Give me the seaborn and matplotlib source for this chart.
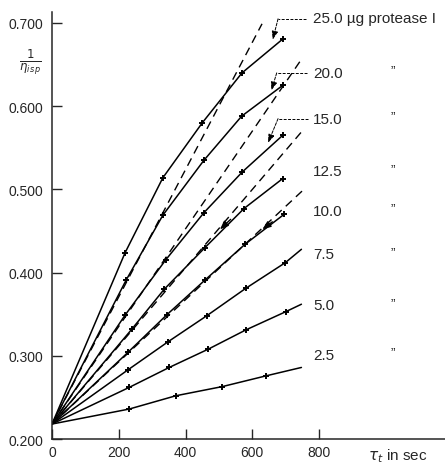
import numpy as np
import pandas as pd
import matplotlib
matplotlib.use("Agg")
import matplotlib.pyplot as plt
import seaborn as sns

# ---------------- data ----------------
doses = ["25.0", "20.0", "15.0", "12.5", "10.0", "7.5", "5.0", "2.5"]
origin_t = 0
origin_v = 0.218

t_25 = [219, 332, 450, 569, 692]
v_25 = [0.424, 0.514, 0.580, 0.640, 0.681]
t_20 = [222, 332, 455, 568, 691]
v_20 = [0.391, 0.469, 0.535, 0.588, 0.625]
t_15 = [219, 340, 455, 570, 691]
v_15 = [0.349, 0.415, 0.472, 0.521, 0.565]
t_125 = [239, 336, 458, 575, 691]
v_125 = [0.332, 0.380, 0.430, 0.477, 0.513]
t_10 = [227, 343, 458, 578, 695]
v_10 = [0.304, 0.349, 0.391, 0.434, 0.470]
t_75 = [227, 348, 463, 580, 699]
v_75 = [0.283, 0.317, 0.348, 0.381, 0.412]
t_5 = [231, 351, 468, 580, 700]
v_5 = [0.262, 0.286, 0.308, 0.331, 0.353]
t_25b = [231, 371, 510, 642]
v_25b = [0.236, 0.252, 0.263, 0.276]

# line ends (no marker) for the three lowest series
end_t = {"7.5": 747, "5.0": 747, "2.5": 747}
end_v = {"7.5": 0.428, "5.0": 0.362, "2.5": 0.286}

# dashed initial-slope lines (from origin to end)
dash_doses = ["20.0", "15.0", "12.5", "10.0"]
dash_end_t = [629, 743, 749, 749]
dash_end_v = [0.699, 0.654, 0.570, 0.498]

# right-hand labels
label_v = [0.706, 0.640, 0.585, 0.522, 0.474, 0.422, 0.361, 0.301]
x_ticks = [0, 200, 400, 600, 800]
y_ticks = [0.2, 0.3, 0.4, 0.5, 0.6, 0.7]

series_t = [t_25, t_20, t_15, t_125, t_10, t_75, t_5, t_25b]
series_v = [v_25, v_20, v_15, v_125, v_10, v_75, v_5, v_25b]

# ---------------- frames ----------------
line_rows, pt_rows = [], []
for d, ts, vs in zip(doses, series_t, series_v):
    line_rows.append((d, origin_t, origin_v))
    for t, v in zip(ts, vs):
        line_rows.append((d, t, v))
        pt_rows.append((d, t, v))
    if d in end_t:
        line_rows.append((d, end_t[d], end_v[d]))
lines_df = pd.DataFrame(line_rows, columns=["dose", "t", "v"])
pts_df = pd.DataFrame(pt_rows, columns=["dose", "t", "v"])

dash_rows = []
for d, te, ve in zip(dash_doses, dash_end_t, dash_end_v):
    dash_rows.append((d, origin_t, origin_v))
    dash_rows.append((d, te, ve))
dash_df = pd.DataFrame(dash_rows, columns=["dose", "t", "v"])

# ---------------- style ----------------
sns.set_style("ticks")
plt.rcParams["font.family"] = ["Liberation Sans", "DejaVu Sans"]
plt.rcParams["mathtext.fontset"] = "dejavusans"

fig = plt.figure(figsize=(4.45, 4.64), dpi=100)
ax = fig.add_axes([0.1169, 0.0517, 0.8831, 0.9203])

black = {d: "black" for d in doses}

for d in dash_doses:
    sub = dash_df[dash_df.dose == d]
    sns.lineplot(x=sub.t.values, y=sub.v.values, ax=ax, color="black",
                 lw=1.0, ls=(0, (6, 4)), zorder=1, sort=False,
                 estimator=None)

sns.lineplot(data=lines_df, x="t", y="v", hue="dose", palette=black,
             estimator=None, sort=False, legend=False, lw=1.1, ax=ax,
             zorder=2)
sns.scatterplot(data=pts_df, x="t", y="v", marker="+", color="black",
                s=20, linewidth=1.4, ax=ax, zorder=3, legend=False)

ax.set_xlim(0, 1177)
ax.set_ylim(0.2, 0.7132)
ax.set_xticks(x_ticks)
ax.set_xticklabels([str(x) for x in x_ticks], fontsize=10)
ax.set_yticks(y_ticks)
ax.set_yticklabels([f"{y:.3f}" for y in y_ticks], fontsize=10)
ax.tick_params(direction="in", length=7, width=1.0, pad=4)
ax.tick_params(axis="y", pad=6)
ax.set_xlabel("")
ax.set_ylabel("")
for s in ["top", "right"]:
    ax.spines[s].set_visible(False)
for s in ["left", "bottom"]:
    ax.spines[s].set_linewidth(1.1)

# right-hand labels
lab_x = 782
ditto_x = 1022
for i, (d, yv) in enumerate(zip(doses, label_v)):
    txt = d + " µg protease I" if i == 0 else d
    ax.text(lab_x, yv, txt, fontsize=11, ha="left", va="center",
            clip_on=False)
    if i > 0:
        ax.text(ditto_x, yv + 0.003, "\u201d", fontsize=10, ha="center",
                va="center")

# leader lines with arrows
leaders = [
    ((761, 0.705), (677, 0.705), (661, 0.680)),
    ((763, 0.640), (673, 0.640), (657, 0.619)),
    ((767, 0.585), (677, 0.585), (647, 0.556)),
]
for p0, p1, tip in leaders:
    ax.plot([p0[0], p1[0]], [p0[1], p1[1]], color="black", lw=0.7,
            ls=(0, (3, 1.5)))
    ax.annotate("", xy=tip, xytext=p1,
                arrowprops=dict(arrowstyle="-|>,head_length=0.5,head_width=0.18",
                                color="black", lw=0.7, ls=(0, (3, 1.5)),
                                shrinkA=0, shrinkB=0))

# small arrow heads where curves leave the dashed lines
for (tx, ty, sx, sy) in [(503, 0.452, 535, 0.464), (630, 0.452, 660, 0.461)]:
    ax.annotate("", xy=(tx, ty), xytext=(sx, sy),
                arrowprops=dict(arrowstyle="-|>,head_length=0.5,head_width=0.2",
                                color="black", lw=1.0, shrinkA=0, shrinkB=0))

# axis titles
fig.text(30 / 445, 1 - 62 / 464, r"$\frac{1}{\eta_{i\,sp}}$", fontsize=12,
         ha="center", va="center")
fig.text(398 / 445, 1 - 456 / 464, r"$\tau_t$ in sec", fontsize=11,
         ha="center", va="center")

fig.savefig("out.png", dpi=100)
